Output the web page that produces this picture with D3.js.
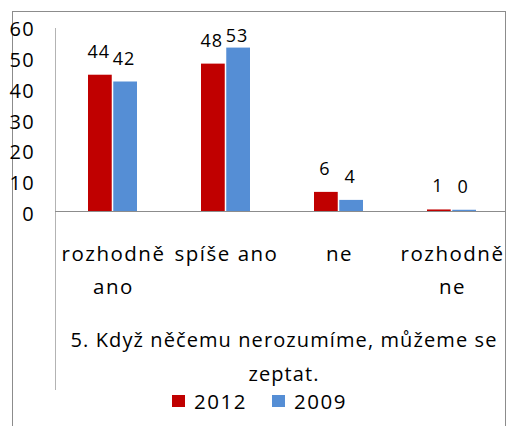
<!DOCTYPE html>
<html>
  <head>
    <meta charset="utf-8">
    <title>Když něčemu nerozumíme</title>
    <script src="https://d3js.org/d3.v7.min.js"></script>
    <style>
      body { margin: 0; background: #fff; }
      text { font-family: "Open Sans", sans-serif; font-weight: 500; fill: #000; }
    </style>
  </head>
  <body>
    <svg id="chart" width="507" height="426"></svg>
  </body>
  <script type="text/javascript">
    var categories = [["rozhodně", "ano"], ["spíše ano"], ["ne"], ["rozhodně", "ne"]];
    var series = ["2012", "2009"];
    var values2012 = [44.2, 47.8, 6.2, 0.5];
    var values2009 = [42.0, 53.0, 3.6, 0.4];
    var yTicks = [0, 10, 20, 30, 40, 50, 60];
    var titleLines = ["5. Když něčemu nerozumíme, můžeme se", "zeptat."];
    var colors = ["#C00000", "#558ED5"];

    var svg = d3.select("#chart");

    // outer frame
    svg.append("rect")
      .attr("x", 12.5).attr("y", 11.5)
      .attr("width", 493).attr("height", 430)
      .attr("fill", "none").attr("stroke", "#8c8c8c");

    var xScale = d3.scaleBand()
      .domain(d3.range(categories.length))
      .range([56, 508]);
    var yScale = d3.scaleLinear()
      .domain([0, 60])
      .range([211, 26]);
    var sub = d3.scaleBand()
      .domain(series)
      .range([0, 49])
      .paddingInner(0.06);

    // y axis line (runs down past the category labels, like the original)
    svg.append("line")
      .attr("x1", 55.5).attr("x2", 55.5)
      .attr("y1", 28).attr("y2", 390)
      .attr("stroke", "#b3b3b3");

    svg.selectAll("text.ytick")
      .data(yTicks)
      .enter()
      .append("text")
        .attr("class", "ytick")
        .attr("x", 35)
        .attr("y", function(d){ return yScale(d) + 10; })
        .attr("text-anchor", "end")
        .style("font-size", "20px")
        .style("letter-spacing", "1.3px")
        .text(function(d){ return d; });

    var rows = categories.map(function(c, i){
      return { i: i, vals: [values2012[i], values2009[i]] };
    });

    var groups = svg.selectAll("g.cat")
      .data(rows)
      .enter()
      .append("g")
        .attr("class", "cat")
        .attr("transform", function(d){
          return "translate(" + (xScale(d.i) + xScale.bandwidth() / 2 - 24.5) + ",0)";
        });

    groups.selectAll("rect")
      .data(function(d){ return d.vals.map(function(v, k){ return { s: series[k], v: v, k: k }; }); })
      .enter()
      .append("rect")
        .attr("x", function(d){ return sub(d.s); })
        .attr("width", sub.bandwidth())
        .attr("y", function(d){ return yScale(d.v); })
        .attr("height", function(d){ return yScale(0) - yScale(d.v); })
        .attr("fill", function(d){ return colors[d.k]; });

    groups.selectAll("text.val")
      .data(function(d){ return d.vals.map(function(v, k){ return { s: series[k], v: v }; }); })
      .enter()
      .append("text")
        .attr("class", "val")
        .attr("x", function(d){ return sub(d.s) + sub.bandwidth() / 2 - 1; })
        .attr("y", function(d){ return Math.max(yScale(d.v) - 17, 42); })
        .attr("text-anchor", "middle")
        .style("font-size", "18px")
        .style("letter-spacing", "1px")
        .text(function(d){ return Math.round(d.v); });

    // baseline
    svg.append("line")
      .attr("x1", 55).attr("x2", 506)
      .attr("y1", 211.5).attr("y2", 211.5)
      .attr("stroke", "#8c8c8c");

    // category labels
    var catLabels = svg.selectAll("text.cat")
      .data(categories)
      .enter()
      .append("text")
        .attr("class", "cat")
        .attr("text-anchor", "middle")
        .style("font-size", "20.5px")
        .style("letter-spacing", "1.5px");
    catLabels.selectAll("tspan")
      .data(function(d, i){ return d.map(function(t){ return { t: t, i: i }; }); })
      .enter()
      .append("tspan")
        .attr("x", function(d){ return xScale(d.i) + xScale.bandwidth() / 2 + 1; })
        .attr("y", function(d, j){ return 261 + j * 33; })
        .text(function(d){ return d.t; });

    svg.selectAll("text.title")
      .data(titleLines)
      .enter()
      .append("text")
        .attr("class", "title")
        .attr("x", 284)
        .attr("y", function(d, i){ return 347 + i * 34; })
        .attr("text-anchor", "middle")
        .style("font-size", "20px")
        .style("letter-spacing", "1.1px")
        .text(function(d){ return d; });

    // legend
    var legendX = d3.scaleOrdinal().domain(series).range([172, 272]);
    var legend = svg.selectAll("g.legend")
      .data(series)
      .enter()
      .append("g")
        .attr("class", "legend")
        .attr("transform", function(d){ return "translate(" + legendX(d) + ",395)"; });
    legend.append("rect")
      .attr("width", 13).attr("height", 12)
      .attr("fill", function(d, i){ return colors[i]; });
    legend.append("text")
      .attr("x", 22).attr("y", 14)
      .style("font-size", "20.5px")
      .style("letter-spacing", "1.5px")
      .text(function(d){ return d; });
  </script>
</html>
